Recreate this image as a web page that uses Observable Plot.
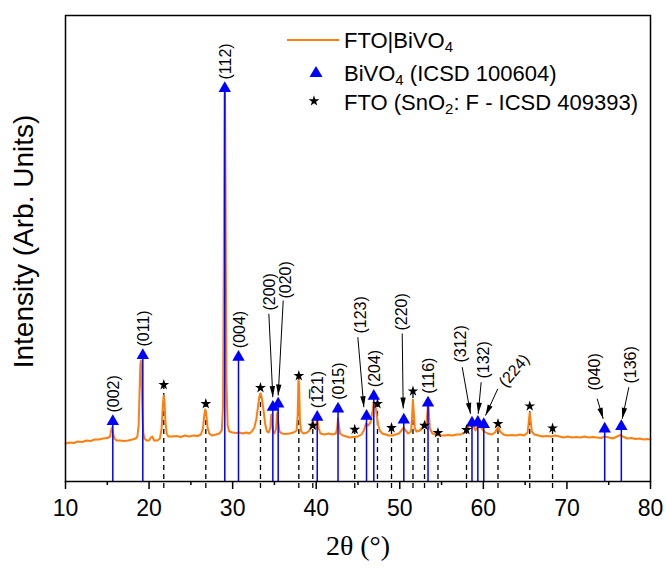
<!DOCTYPE html>
<html>
<head>
<meta charset="utf-8">
<script src="https://cdn.jsdelivr.net/npm/d3@7"></script>
<script src="https://cdn.jsdelivr.net/npm/@observablehq/plot@0.6"></script>
<style>
  body { margin: 0; background: #fff; }
  #wrap { position: relative; width: 667px; height: 570px; font-family: "Liberation Sans", Arial, sans-serif; }
  .lg { position: absolute; font-size: 22px; line-height: 26px; color: #000; white-space: nowrap; }
  .lg sub { font-size: 0.68em; vertical-align: -0.3em; line-height: 0; }
  .sym { position: absolute; }
</style>
</head>
<body>
<div id="wrap">
  <svg class="sym" style="left:285px;top:34px" width="56" height="12"><line x1="2" y1="6" x2="54" y2="6" stroke="#ff7f0e" stroke-width="2"/></svg>
  <div class="lg" style="left:344px;top:28px">FTO|BiVO<sub>4</sub></div>
  <svg class="sym" style="left:307px;top:64px" width="18" height="16"><path d="M9,2 L15.5,13 L2.5,13 Z" fill="#0000ff"/></svg>
  <div class="lg" style="left:344px;top:61px">BiVO<sub>4</sub> (ICSD 100604)</div>
  <svg class="sym" id="legendStar" style="left:305px;top:92px" width="18" height="18"></svg>
  <div class="lg" style="left:344px;top:90px">FTO (SnO<sub>2</sub>: F - ICSD 409393)</div>
</div>
<script>
// ---------- measured XRD pattern (2θ in degrees, intensity in arb. units) ----------
const scanTheta = [10.0,10.5,11.0,11.5,12.0,12.5,13.0,13.5,14.0,14.5,15.0,15.35,15.45,15.55,15.7,15.85,16.1,16.5,17.0,17.5,18.0,18.4,18.6,18.75,18.85,18.95,19.02,19.1,19.2,19.3,19.45,19.7,20.0,20.2,20.4,20.6,21.0,21.3,21.5,21.65,21.75,21.85,21.95,22.1,22.3,22.8,23.3,23.8,24.3,24.8,25.3,25.8,26.2,26.45,26.6,26.72,26.85,27.0,27.2,27.5,28.0,28.4,28.7,28.85,28.95,29.02,29.08,29.15,29.25,29.4,29.6,30.0,30.4,30.8,31.2,31.6,32.0,32.3,32.6,32.85,33.05,33.2,33.35,33.5,33.7,33.9,34.1,34.3,34.5,34.62,34.72,34.85,35.0,35.2,35.33,35.43,35.6,35.9,36.3,36.8,37.3,37.65,37.78,37.87,37.95,38.05,38.2,38.5,38.9,39.2,39.45,39.6,39.75,39.9,40.05,40.15,40.3,40.5,41.0,41.5,42.0,42.35,42.5,42.6,42.7,42.85,43.2,43.6,44.0,44.5,45.0,45.4,45.7,45.95,46.2,46.5,46.75,46.9,47.05,47.2,47.4,47.6,47.9,48.3,48.7,49.1,49.5,49.9,50.2,50.45,50.7,51.0,51.35,51.48,51.57,51.66,51.8,52.0,52.4,52.8,53.0,53.15,53.3,53.38,53.47,53.6,53.9,54.3,54.8,55.3,55.8,56.3,56.8,57.3,57.7,58.0,58.25,58.45,58.65,58.85,59.05,59.3,59.55,59.8,60.1,60.5,61.0,61.4,61.65,61.8,62.0,62.4,62.9,63.4,63.9,64.4,64.9,65.3,65.45,65.55,65.65,65.8,66.1,66.6,67.1,67.6,68.1,68.6,69.1,69.6,70.1,70.6,71.1,71.6,72.1,72.6,73.1,73.6,74.1,74.5,75.0,75.5,76.0,76.4,76.7,77.2,77.7,78.2,78.7,79.2,79.6,80.0];
const scanIntensity = [380,390,385,400,395,410,405,420,420,430,435,450,510,540,480,430,410,410,405,410,420,430,450,560,860,1160,1210,1060,710,490,430,410,410,440,450,410,410,430,530,760,860,790,610,480,450,450,455,445,460,450,460,455,470,530,660,720,670,540,480,460,470,480,510,760,2310,3860,3910,3010,1010,560,500,490,485,490,480,490,480,500,540,630,760,850,880,830,710,570,500,490,530,670,590,500,480,530,690,610,500,480,475,480,490,510,660,1010,980,610,500,480,490,510,570,610,550,530,590,610,530,480,470,480,470,480,530,630,570,480,460,450,440,445,450,470,510,580,560,590,710,800,780,690,570,510,480,470,460,460,470,480,510,540,510,480,500,660,820,710,530,500,510,550,590,570,690,790,710,530,480,470,460,460,465,460,470,470,490,510,560,590,530,560,510,540,570,530,500,480,470,490,530,540,500,470,460,465,460,470,460,490,610,690,610,500,470,460,450,455,450,460,450,440,450,440,445,440,450,440,445,440,435,450,440,430,450,465,450,430,435,425,430,420,425,420];

// ---------- BiVO4 reference reflections (ICSD 100604) ----------
const bivHkl    = ["(002)","(011)","(112)","(004)","(200)","(020)","(1\u030521)","(015)","(123)","(204)","(220)","(116)","(312)","(132)","(224)","(040)","(136)"];
const bivPos    = [15.66,19.25,29.06,30.70,34.81,35.45,40.12,42.61,46.02,46.89,50.48,53.38,58.64,59.34,60.05,74.52,76.51];
const bivHeight = [600,1260,3930,1243,743,777,643,727,653,853,617,787,587,593,570,527,550];

// ---------- FTO reference reflections (SnO2:F, ICSD 409393) ----------
const ftoPos    = [21.76,26.79,33.33,37.92,39.59,44.61,47.33,49.01,51.58,52.96,54.57,57.98,61.75,65.55,68.28];
const ftoHeight = [967,777,937,1057,560,520,777,537,903,560,487,517,577,753,533];

// ---------- hkl labels attached with arrows (label anchor, arrow tail, arrow tip) ----------
const calloutHkl   = ["(200)","(020)","(123)","(220)","(312)","(132)","(224)","(040)","(136)"];
const calloutTextX = [34.41,36.33,45.30,50.21,57.33,60.08,62.25,73.36,77.67];
const calloutTextY = [1710,1830,1480,1510,1190,1030,966,910,980];
const calloutRot   = [-90,-90,-90,-90,-90,-90,-50,-90,-90];
const arrowFromX   = [34.33,36.05,44.98,50.29,57.47,59.74,61.73,73.62,77.41];
const arrowFromY   = [1677,1810,1443,1480,1143,993,927,827,943];
const arrowToX     = [34.81,35.45,45.70,50.41,58.46,59.38,60.26,74.34,76.62];
const arrowToY     = [843,860,743,730,677,677,660,627,627];

// ---------- axis ----------
const xTicks = [10,20,30,40,50,60,70,80];
const xMinorTicks = [15,25,35,45,55,65,75];
const xTitle = "2\u03b8 (\u00b0)";
const yTitle = "Intensity (Arb. Units)";

// ---------- build tables ----------
const scan = scanTheta.map((t, i) => ({t, I: scanIntensity[i]}));
const biv = bivHkl.map((hkl, i) => ({hkl, pos: bivPos[i], h: bivHeight[i]}));
const fto = ftoPos.map((pos, i) => ({pos, h: ftoHeight[i]}));
const directLabels = biv.filter(d => !calloutHkl.includes(d.hkl));

const W = 667, H = 570, mL = 65, mR = 17, mT = 15, mB = 89;
const xDomain = [10, 80], yDomain = [0, 4660];
const sx = Plot.scale({x: {domain: xDomain, range: [mL, W - mR]}});
const sy = Plot.scale({y: {domain: yDomain, range: [H - mB, mT]}});

const callouts = calloutHkl.map((hkl, i) => {
  const dx = sx.apply(arrowToX[i]) - sx.apply(arrowFromX[i]);
  const dy = sy.apply(arrowToY[i]) - sy.apply(arrowFromY[i]);
  return {
    hkl, tx: calloutTextX[i], ty: calloutTextY[i], rot: calloutRot[i],
    x1: arrowFromX[i], y1: arrowFromY[i], x2: arrowToX[i], y2: arrowToY[i],
    angle: Math.atan2(dx, -dy) * 180 / Math.PI
  };
});

// narrow filled arrow head, tip at the origin, pointing up
const arrowHead = {
  draw(ctx) { ctx.moveTo(0, 0); ctx.lineTo(-2.7, 11); ctx.lineTo(2.7, 11); ctx.closePath(); }
};

const chart = Plot.plot({
  width: W, height: H,
  marginLeft: mL, marginRight: mR, marginTop: mT, marginBottom: mB,
  x: {domain: xDomain},
  y: {domain: yDomain, axis: null},
  style: {fontFamily: "'Liberation Sans', Arial, sans-serif", background: "transparent", color: "black"},
  marks: [
    Plot.ruleX(fto, {x: "pos", y1: 0, y2: "h", insetTop: 7, stroke: "black", strokeWidth: 1.3, strokeDasharray: "5,4"}),
    Plot.line(scan, {x: "t", y: "I", stroke: "#ff7f0e", strokeWidth: 2}),
    Plot.ruleX(biv, {x: "pos", y1: 0, y2: "h", stroke: "#0000ff", strokeWidth: 1.5}),
    Plot.dot(biv, {x: "pos", y: "h", symbol: "triangle", r: 4.6, fill: "#0000ff", stroke: "none"}),
    Plot.dot(fto, {x: "pos", y: "h", symbol: "star", r: 3.4, fill: "black", stroke: "none"}),
    Plot.text(directLabels, {x: "pos", y: "h", text: "hkl", rotate: -90, textAnchor: "start", lineAnchor: "middle", dy: -9, dx: 1, fontSize: 16, fill: "black"}),
    Plot.link(callouts, {x1: "x1", y1: "y1", x2: "x2", y2: "y2", stroke: "black", strokeWidth: 1}),
    Plot.dot(callouts, {x: "x2", y: "y2", symbol: arrowHead, r: 3, rotate: "angle", fill: "black", stroke: "none"}),
    Plot.text(callouts, {x: "tx", y: "ty", text: "hkl", rotate: "rot", textAnchor: "start", lineAnchor: "middle", fontSize: 16, fill: "black"}),
    Plot.frame({stroke: "black", strokeWidth: 1.5}),
    Plot.axisX({ticks: xTicks, tickSize: 8, tickPadding: 10, fontSize: 23, label: null, strokeWidth: 1.5}),
    Plot.axisX({ticks: xMinorTicks, tickSize: 4, tickFormat: () => "", label: null, strokeWidth: 1.5}),
    Plot.text([xTitle], {frameAnchor: "bottom", dy: 65, text: d => d, fontSize: 28, fontFamily: "'Liberation Serif', serif", lineAnchor: "middle", textAnchor: "middle", fill: "black"}),
    Plot.text([yTitle], {frameAnchor: "left", dx: -41, dy: -7, rotate: -90, text: d => d, fontSize: 28, lineAnchor: "middle", textAnchor: "middle", fill: "black"})
  ]
});
chart.style.position = "absolute";
chart.style.left = "0px";
chart.style.top = "0px";
const wrap = document.getElementById("wrap");
wrap.insertBefore(chart, wrap.firstChild);

// legend star drawn with the same d3 symbol as the plot
d3.select("#legendStar").append("path")
  .attr("transform", "translate(9,9)")
  .attr("d", d3.symbol(d3.symbolStar, Math.PI * 3.4 * 3.4)())
  .attr("fill", "black");
</script>
</body>
</html>
